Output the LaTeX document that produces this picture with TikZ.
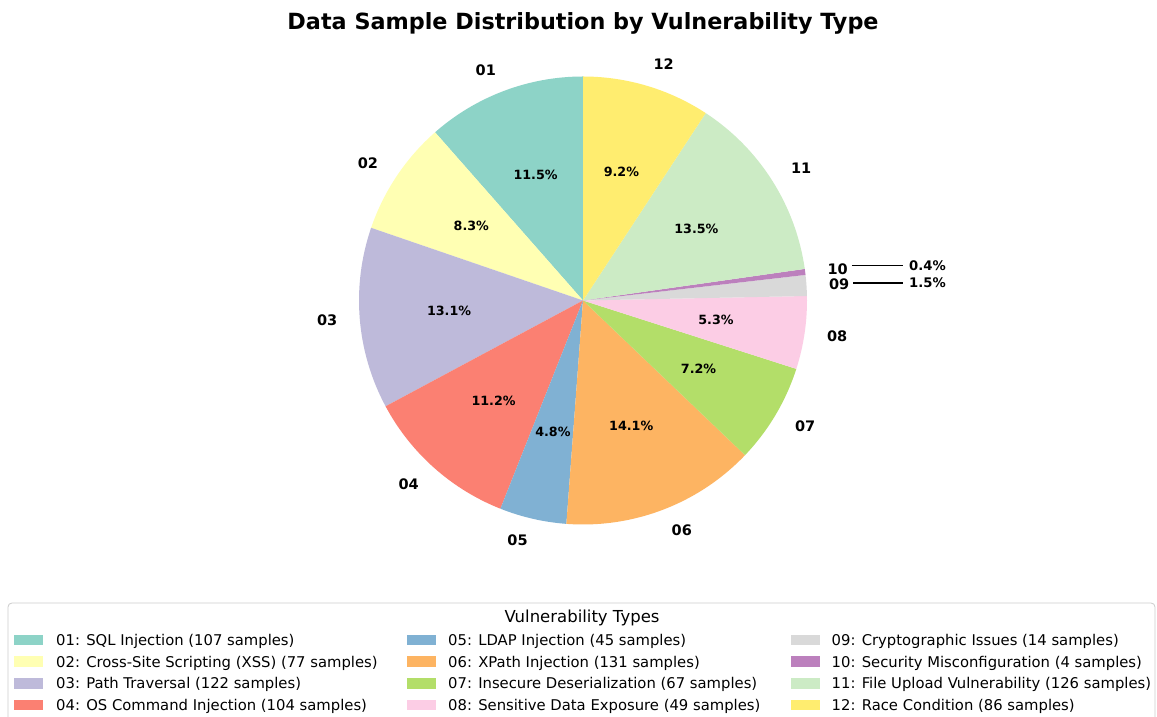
\documentclass[tikz,border=0pt]{standalone}
\usepackage{fontspec}
\setmainfont{DejaVu Sans}
\usetikzlibrary{calc}
\definecolor{c01}{HTML}{8DD3C7}
\definecolor{c02}{HTML}{FFFFB3}
\definecolor{c03}{HTML}{BEBADA}
\definecolor{c04}{HTML}{FB8072}
\definecolor{c05}{HTML}{80B1D3}
\definecolor{c06}{HTML}{FDB462}
\definecolor{c07}{HTML}{B3DE69}
\definecolor{c08}{HTML}{FCCDE5}
\definecolor{c09}{HTML}{D9D9D9}
\definecolor{c10}{HTML}{BC80BD}
\definecolor{c11}{HTML}{CCEBC5}
\definecolor{c12}{HTML}{FFED6F}
\begin{document}
\begin{tikzpicture}[x=1pt,y=1pt,
  slicelbl/.style={font=\fontsize{14.5}{17}\selectfont\bfseries, inner sep=0pt},
  pctlbl/.style={font=\fontsize{12.7}{15}\selectfont\bfseries, inner sep=0pt},
  sidepct/.style={font=\fontsize{13.2}{15}\selectfont\bfseries, inner sep=0pt, anchor=west},
  legtxt/.style={font=\fontsize{14.8}{17}\selectfont, inner sep=0pt, anchor=base west},
  legpatch/.style={minimum width=29pt, minimum height=10.5pt, inner sep=0pt, draw=none}]
\useasboundingbox (0,0) rectangle (1157,717);
\fill[white] (0,0) rectangle (1157,717);
\coordinate (O) at (583,416.5);
\node[font=\fontsize{22.3}{26}\selectfont\bfseries, anchor=base, inner sep=0pt] (title) at (583,687) {Data Sample Distribution by Vulnerability Type};
\foreach \s/\e/\c/\n in {90/131.33/c01/01, 131.33/161.07/c02/02, 161.07/208.19/c03/03, 208.19/248.36/c04/04, 248.36/265.74/c05/05, 265.74/316.34/c06/06, 316.34/342.22/c07/07, 342.22/361.15/c08/08, 361.15/366.56/c09/09, 366.56/368.11/c10/10, 368.11/416.78/c11/11, 416.78/450/c12/12}{
  \fill[\c] (O) -- ++(\s:224) arc[start angle=\s, end angle=\e, radius=224] -- cycle;
  \pgfmathsetmacro\m{(\s+\e)/2}
  \pgfmathsetmacro\cx{cos(\m)}
  \ifdim\cx pt<0pt \def\anc{east}\else\def\anc{west}\fi
  \node[slicelbl, anchor=\anc] (lbl\n) at ($(O)+(\m:246.4)$) {\n};
}
\foreach \s/\e/\n/\p in {90/131.33/01/11.5, 131.33/161.07/02/8.3, 161.07/208.19/03/13.1, 208.19/248.36/04/11.2, 248.36/265.74/05/4.8, 265.74/316.34/06/14.1, 316.34/342.22/07/7.2, 342.22/361.15/08/5.3, 368.11/416.78/11/13.5, 416.78/450/12/9.2}{
  \pgfmathsetmacro\m{(\s+\e)/2}
  \node[pctlbl] (pct\n) at ($(O)+(\m:134.4)$) {\p\%};
}
\node[sidepct] (pct10) at (909,451.5) {0.4\%};
\node[sidepct] (pct09) at (909,434) {1.5\%};
\draw[line width=1.4pt] ([xshift=4pt]lbl10.east |- pct10.west) -- ([xshift=-6pt]pct10.west);
\draw[line width=1.4pt] ([xshift=4pt]lbl09.east |- pct09.west) -- ([xshift=-6pt]pct09.west);
% legend
\draw[draw=black!20, rounded corners=4pt, line width=0.8pt] (8,-10) rectangle (1155,114);
\node[font=\fontsize{16.5}{19}\selectfont, anchor=base, inner sep=0pt] (legtitle) at (582,94.7) {Vulnerability Types};
\foreach \px/\tx/\y/\c/\n/\t in {
  28.5/56/77/c01/01/{01: SQL Injection (107 samples)},
  28.5/56/55.3/c02/02/{02: Cross-Site Scripting (XSS) (77 samples)},
  28.5/56/33.7/c03/03/{03: Path Traversal (122 samples)},
  28.5/56/12/c04/04/{04: OS Command Injection (104 samples)},
  421.2/448/77/c05/05/{05: LDAP Injection (45 samples)},
  421.2/448/55.3/c06/06/{06: XPath Injection (131 samples)},
  421.2/448/33.7/c07/07/{07: Insecure Deserialization (67 samples)},
  421.2/448/12/c08/08/{08: Sensitive Data Exposure (49 samples)},
  805/831.5/77/c09/09/{09: Cryptographic Issues (14 samples)},
  805/831.5/55.3/c10/10/{10: Security Misconfiguration (4 samples)},
  805/831.5/33.7/c11/11/{11: File Upload Vulnerability (126 samples)},
  805/831.5/12/c12/12/{12: Race Condition (86 samples)}}{
  \node[legpatch, fill=\c] (patch\n) at (\px,\y) {};
  \node[legtxt] (leg\n) at (\tx,\y-5.4) {\t};
}
\end{tikzpicture}
\end{document}
